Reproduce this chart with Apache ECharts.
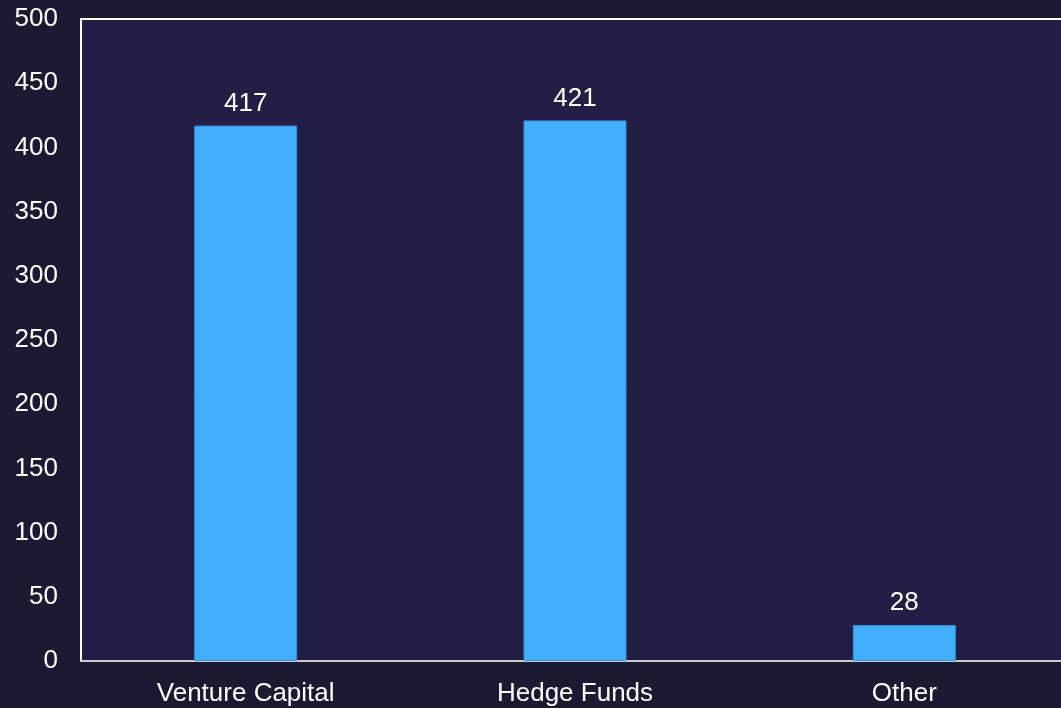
<!DOCTYPE html>
<html>
<head>
<meta charset="utf-8">
<script src="https://cdn.jsdelivr.net/npm/echarts@6/dist/echarts.min.js"></script>
<style>
  html, body { margin: 0; padding: 0; background: #1a1a33; }
  #chart { width: 1061px; height: 708px; }
</style>
</head>
<body>
<div id="chart"></div>
<script>
const categories = ['Venture Capital', 'Hedge Funds', 'Other']
const values = [417, 421, 28]

const chart = echarts.init(document.getElementById('chart'))

chart.setOption({
  backgroundColor: '#1a1a33',
  textStyle: { fontFamily: 'Liberation Sans, Arial, sans-serif' },
  grid: {
    left: 81,
    top: 19,
    right: -8,
    bottom: 47,
    outerBoundsMode: 'none',
    show: true,
    backgroundColor: '#221e45',
    borderColor: '#ffffff',
    borderWidth: 2
  },
  xAxis: {
    type: 'category',
    data: categories,
    axisLine: { show: true, lineStyle: { color: '#cccccc', width: 2 } },
    axisTick: { show: false },
    axisLabel: { color: '#ffffff', fontSize: 26, margin: 20 }
  },
  yAxis: {
    type: 'value',
    min: 0,
    max: 500,
    interval: 50,
    axisLine: { show: false },
    axisTick: { show: false },
    splitLine: { show: false },
    axisLabel: { color: '#ffffff', fontSize: 26, margin: 23 }
  },
  series: [
    {
      type: 'bar',
      data: values,
      barWidth: 103,
      itemStyle: { color: '#42affc', borderColor: '#3a8fd6', borderWidth: 1 },
      label: {
        show: true,
        position: 'top',
        distance: 9,
        color: '#ffffff',
        fontSize: 26
      }
    }
  ]
})
</script>
</body>
</html>
